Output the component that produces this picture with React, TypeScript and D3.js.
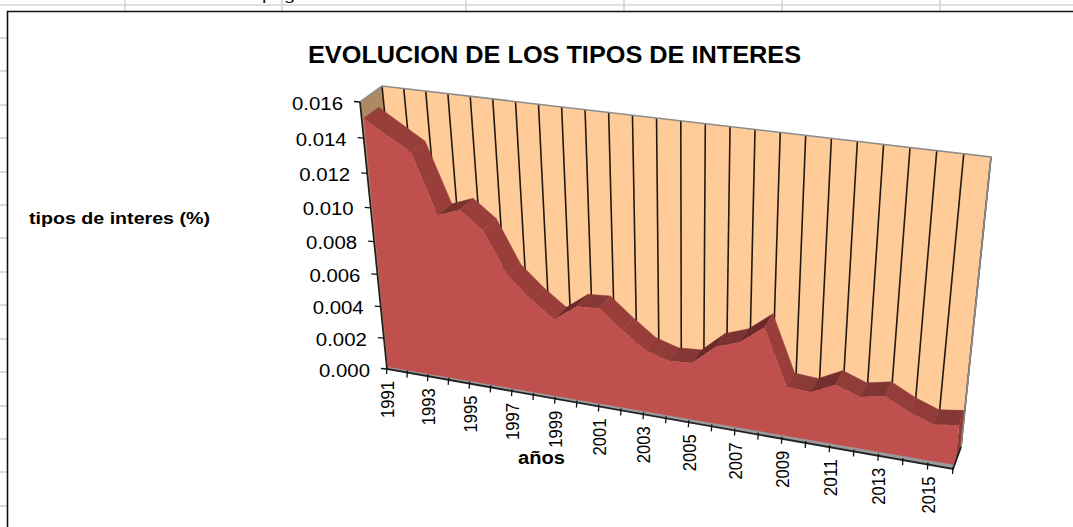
import React from "react";
import * as d3 from "d3";

const years = d3.range(1991, 2017);
const rates = [
  0.015, 0.0142, 0.0134, 0.01, 0.0105, 0.0095, 0.007, 0.0058, 0.0048, 0.0058,
  0.0059, 0.0048, 0.0038, 0.0034, 0.0035, 0.0047, 0.0052, 0.0063, 0.003, 0.0029,
  0.0036, 0.0031, 0.0034, 0.0027, 0.0022, 0.0024,
];
const yTicks = [0, 0.002, 0.004, 0.006, 0.008, 0.01, 0.012, 0.014, 0.016];
const xLabels = [1991, 1993, 1995, 1997, 1999, 2001, 2003, 2005, 2007, 2009, 2011, 2013, 2015];
const sheetCols = [125, 282, 466, 624, 782, 940];
const sheetRows = [38, 71, 105, 138, 172, 205, 238, 272, 305, 339, 372, 406, 439, 472, 506];

type P = [number, number];

function homography(p00: P, p10: P, p01: P, p11: P) {
  const dx1 = p10[0] - p11[0], dy1 = p10[1] - p11[1];
  const dx2 = p01[0] - p11[0], dy2 = p01[1] - p11[1];
  const sx = p00[0] - p10[0] + p11[0] - p01[0];
  const sy = p00[1] - p10[1] + p11[1] - p01[1];
  const det = dx1 * dy2 - dx2 * dy1;
  const g = (sx * dy2 - dx2 * sy) / det;
  const h = (dx1 * sy - sx * dy1) / det;
  const a = p10[0] - p00[0] + g * p10[0];
  const b = p01[0] - p00[0] + h * p01[0];
  const d = p10[1] - p00[1] + g * p10[1];
  const e = p01[1] - p00[1] + h * p01[1];
  return (u: number, v: number): P => {
    const w = g * u + h * v + 1;
    return [(a * u + b * v + p00[0]) / w, (d * u + e * v + p00[1]) / w];
  };
}

const uScale = d3.scaleLinear().domain([1991, 2016]).range([0, 1]);
const vScale = d3.scaleLinear().domain([0, 0.016]).range([0, 1]);

const axisPlane = homography([387, 369], [953, 469], [360, 102], [983, 179]);
const areaFront = homography([388, 367], [955, 465], [362, 100], [985, 177]);
const areaBack = homography([403, 356], [960, 450], [377, 89], [990, 162]);
const wall = homography([409, 353], [961, 447], [382, 86], [991, 157]);

const at = (pl: typeof wall, yr: number, val: number) => pl(uScale(yr), vScale(val));
const poly = (pts: P[]) => (d3.line()(pts) ?? "") + "Z";

const shade = d3
  .scaleLinear<string>()
  .domain([-0.001, 0, 0.001])
  .range(["#9A3E3B", "#8A3A38", "#6B2A29"])
  .clamp(true);

const FONT = "'Liberation Sans', Arial, sans-serif";

export default function App() {
  const vMax = 0.016;
  const frontPts: P[] = [
    at(areaFront, 1991, 0),
    ...years.map((y, i) => at(areaFront, y, rates[i])),
    at(areaFront, 2016, 0),
  ];
  return (
    <svg
      width={1073}
      height={527}
      style={{ position: "fixed", left: 0, top: 0, background: "#fff" }}
    >
      {/* spreadsheet background */}
      <g stroke="#D4D4D4" strokeWidth={1.6}>
        <line x1={0} x2={1073} y1={5} y2={5} />
        {sheetCols.map((x) => (
          <line key={x} x1={x} x2={x} y1={0} y2={11} />
        ))}
        {sheetRows.map((y) => (
          <line key={y} x1={0} x2={7} y1={y} y2={y} />
        ))}
      </g>
      <text x={262} y={0} fontFamily={FONT} fontSize={15} textLength={33} lengthAdjust="spacingAndGlyphs" fill="#111">
        pág
      </text>
      <path d="M7.5,527V11.5H1073" fill="none" stroke="#111" strokeWidth={1.6} />

      {/* title */}
      <text x={308} y={63} fontFamily={FONT} fontWeight={700} fontSize={24} textLength={493} lengthAdjust="spacingAndGlyphs" fill="#000">
        EVOLUCION DE LOS TIPOS DE INTERES
      </text>
      <text x={29} y={224} fontFamily={FONT} fontWeight={700} fontSize={17} textLength={181} lengthAdjust="spacingAndGlyphs" fill="#000">
        tipos de interes (%)
      </text>
      <text x={518} y={464} fontFamily={FONT} fontWeight={700} fontSize={18} textLength={47} lengthAdjust="spacingAndGlyphs" fill="#000">
        años
      </text>

      {/* floor */}
      <path d={poly([at(axisPlane, 1991, 0), at(axisPlane, 2016, 0), at(wall, 2016, 0), at(wall, 1991, 0)])} fill="#9A9A9A" />
      {/* left side wall */}
      <path d={poly([at(axisPlane, 1991, 0), at(axisPlane, 1991, vMax), at(wall, 1991, vMax), at(wall, 1991, 0)])} fill="#AD8A64" />
      {/* back wall */}
      <path d={poly([at(wall, 1991, 0), at(wall, 2016, 0), at(wall, 2016, vMax), at(wall, 1991, vMax)])} fill="#FFCC99" />
      {/* grid lines */}
      <g stroke="#221a12" strokeWidth={1.6}>
        {years.map((y) => {
          const a = at(wall, y, 0);
          const b = at(wall, y, vMax);
          return <line key={y} x1={a[0]} y1={a[1]} x2={b[0]} y2={b[1]} />;
        })}
      </g>
      <path d={d3.line()([at(axisPlane, 1991, vMax), at(wall, 1991, vMax), at(wall, 2016, vMax), at(wall, 2016, 0)]) ?? ""} fill="none" stroke="#8C8C8C" strokeWidth={1.6} />

      {/* area: top faces */}
      {years.slice(0, -1).map((y, i) => (
        <path
          key={y}
          d={poly([
            at(areaFront, y, rates[i]),
            at(areaFront, y + 1, rates[i + 1]),
            at(areaBack, y + 1, rates[i + 1]),
            at(areaBack, y, rates[i]),
          ])}
          fill={shade(rates[i + 1] - rates[i])}
          stroke={shade(rates[i + 1] - rates[i])}
          strokeWidth={0.4}
        />
      ))}
      {/* right cap */}
      <path
        d={poly([
          at(areaFront, 2016, 0),
          at(areaFront, 2016, rates[25]),
          at(areaBack, 2016, rates[25]),
          at(areaBack, 2016, 0),
        ])}
        fill="#8F3B38"
      />
      {/* area: front face */}
      <path d={poly(frontPts)} fill="#C0504D" />

      {/* axes */}
      <path d={d3.line()([at(axisPlane, 1991, vMax), at(axisPlane, 1991, 0), at(axisPlane, 2016, 0), at(wall, 2016, 0)]) ?? ""} fill="none" stroke="#222" strokeWidth={1.8} />
      <g stroke="#111" strokeWidth={1.3}>
        {yTicks.map((t) => {
          const p = at(axisPlane, 1991, t);
          return <line key={t} x1={p[0] - 6} x2={p[0]} y1={p[1] - 0.5} y2={p[1]} />;
        })}
        {years.map((y) => {
          const p = at(axisPlane, y, 0);
          return <line key={y} x1={p[0]} x2={p[0] - 0.5} y1={p[1] - 2} y2={p[1] + 5} />;
        })}
      </g>
      <g fontFamily={FONT} fill="#000">
        {yTicks.map((t) => {
          const p = at(axisPlane, 1991, t);
          return (
            <text key={t} x={p[0] - 17} y={p[1] + 7.5} fontSize={18} textAnchor="end" textLength={51} lengthAdjust="spacingAndGlyphs">
              {t.toFixed(3)}
            </text>
          );
        })}
        {xLabels.map((y) => {
          const p = at(axisPlane, y, 0);
          return (
            <text
              key={y}
              transform={`translate(${p[0] + 7},${p[1] + 12}) rotate(-90)`}
              fontSize={18}
              textAnchor="end"
              textLength={37}
              lengthAdjust="spacingAndGlyphs"
            >
              {y}
            </text>
          );
        })}
      </g>
    </svg>
  );
}
